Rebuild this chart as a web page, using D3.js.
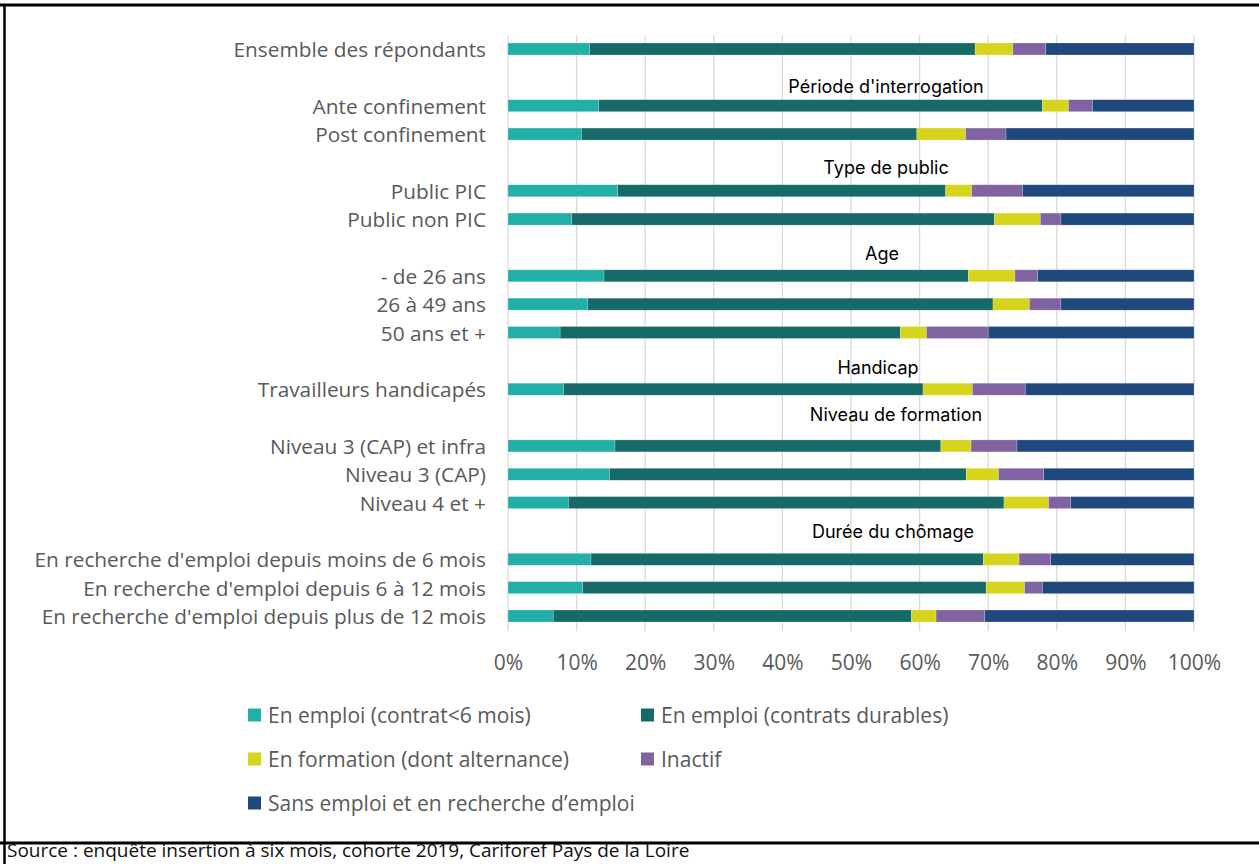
<!DOCTYPE html>
<html>
<head>
<meta charset="utf-8">
<script src="https://cdn.jsdelivr.net/npm/d3@7"></script>
<style>
  html, body { margin: 0; padding: 0; background: #fff; }
  svg { display: block; }
</style>
</head>
<body>
<svg id="chart" width="1259" height="864"></svg>
<script>
// ---- Data ----
const categories = [
  "Ensemble des répondants", "",
  "Ante confinement", "Post confinement", "",
  "Public PIC", "Public non PIC", "",
  "- de 26 ans", "26 à 49 ans", "50 ans et +", "",
  "Travailleurs handicapés", "",
  "Niveau 3 (CAP) et infra", "Niveau 3 (CAP)", "Niveau 4 et +", "",
  "En recherche d'emploi depuis moins de 6 mois",
  "En recherche d'emploi depuis 6 à 12 mois",
  "En recherche d'emploi depuis plus de 12 mois"
];
const seriesNames = [
  "En emploi (contrat<6 mois)",
  "En emploi (contrats durables)",
  "En formation (dont alternance)",
  "Inactif",
  "Sans emploi et en recherche d\u2019emploi"
];
const emploiCourt    = [11.9, null, 13.2, 10.7, null, 16.0,  9.3, null, 14.0, 11.6,  7.6, null,  8.1, null, 15.6, 14.8,  8.8, null, 12.1, 10.9,  6.6];
const emploiDurable  = [56.2, null, 64.7, 48.9, null, 47.8, 61.6, null, 53.1, 59.1, 49.6, null, 52.4, null, 47.5, 52.0, 63.5, null, 57.2, 58.8, 52.2];
const formation      = [ 5.5, null,  3.8,  7.1, null,  3.8,  6.7, null,  6.8,  5.3,  3.8, null,  7.2, null,  4.4,  4.7,  6.5, null,  5.2,  5.6,  3.6];
const inactif        = [ 4.8, null,  3.5,  5.9, null,  7.4,  3.0, null,  3.3,  4.6,  9.0, null,  7.7, null,  6.7,  6.6,  3.2, null,  4.6,  2.6,  7.1];
const sansEmploi     = [21.6, null, 14.8, 27.4, null, 25.0, 19.4, null, 22.8, 19.4, 30.0, null, 24.6, null, 25.8, 21.9, 18.0, null, 20.9, 22.1, 30.5];
const tickValues = [0, 10, 20, 30, 40, 50, 60, 70, 80, 90, 100];
const sectionHeaders = ["Période d'interrogation", "Type de public", "Age", "Handicap", "Niveau de formation", "Durée du chômage"];
const sourceText = "Source : enquête insertion à six mois, cohorte 2019, Cariforef Pays de la Loire";

// ---- Styles / layout ----
const colors = ["#21AFA8", "#166A68", "#D6D41C", "#8064A2", "#1F497D"];
const headerPos = [ // [center x, center y]
  [886, 86], [886, 167], [882, 253], [878, 367], [896, 414], [893, 531]
];
const FONT = "'Open Sans', 'Noto Sans', sans-serif";
const GREY = "#595959";

const svg = d3.select("#chart");
const W = 1259, H = 864;

// frame
svg.append("line").attr("x1", 0).attr("x2", W).attr("y1", 5).attr("y2", 5)
  .attr("stroke", "#000").attr("stroke-width", 3);
svg.append("line").attr("x1", 0).attr("x2", W).attr("y1", 843).attr("y2", 843)
  .attr("stroke", "#000").attr("stroke-width", 3);
svg.append("line").attr("x1", 4.5).attr("x2", 4.5).attr("y1", 4).attr("y2", H)
  .attr("stroke", "#000").attr("stroke-width", 2.5);

const x = d3.scaleLinear().domain([0, 100]).range([508, 1194]);
const y = d3.scalePoint().domain(d3.range(categories.length)).range([49, 616]);
const barH = 12;

// gridlines
svg.append("g").selectAll("line").data(tickValues).join("line")
  .attr("x1", d => x(d)).attr("x2", d => x(d))
  .attr("y1", 35).attr("y2", 631)
  .attr("stroke", "#d9d9d9").attr("stroke-width", 1.3);

// stacked data
const seriesArrays = [emploiCourt, emploiDurable, formation, inactif, sansEmploi];
const rows = categories.map((c, i) => {
  const o = { i, label: c };
  seriesArrays.forEach((arr, k) => o["s" + k] = arr[i]);
  return o;
}).filter(r => r.s0 !== null);
const stack = d3.stack().keys(seriesArrays.map((_, k) => "s" + k));
const stacked = stack(rows);

svg.append("g").selectAll("g").data(stacked).join("g")
  .attr("fill", (d, k) => colors[k])
  .selectAll("rect").data(d => d).join("rect")
  .attr("x", d => x(d[0]))
  .attr("width", d => x(d[1]) - x(d[0]))
  .attr("y", d => y(d.data.i) - barH / 2)
  .attr("height", barH)
  .attr("stroke", "rgba(255,255,255,0.35)")
  .attr("stroke-width", 0.6);

// category labels
svg.append("g").selectAll("text").data(rows).join("text")
  .attr("x", 486).attr("y", d => y(d.i))
  .attr("text-anchor", "end").attr("dominant-baseline", "central")
  .attr("font-family", FONT).attr("font-size", 20.8).attr("fill", GREY)
  .text(d => d.label);

// section headers
svg.append("g").selectAll("text").data(sectionHeaders).join("text")
  .attr("x", (d, i) => headerPos[i][0]).attr("y", (d, i) => headerPos[i][1])
  .attr("text-anchor", "middle").attr("dominant-baseline", "central")
  .attr("font-family", "Inter, 'Liberation Sans', sans-serif").attr("font-size", 18)
  .attr("fill", "#000")
  .text(d => d);

// x axis tick labels
const xAxis = d3.axisBottom(x).tickValues(tickValues).tickFormat(d => d + "%").tickSize(0).tickPadding(0);
const ax = svg.append("g").attr("transform", "translate(0,662)").call(xAxis);
ax.select(".domain").remove();
ax.selectAll("text").attr("font-family", FONT).attr("font-size", 21).attr("fill", GREY)
  .attr("dy", null).attr("dominant-baseline", "central");

// legend
const legendPos = [[248, 715], [641, 715], [248, 759], [641, 759], [248, 803]];
const lg = svg.append("g").selectAll("g").data(seriesNames).join("g")
  .attr("transform", (d, i) => `translate(${legendPos[i][0]},${legendPos[i][1]})`);
lg.append("rect").attr("x", 0).attr("y", -6.5).attr("width", 13).attr("height", 13)
  .attr("fill", (d, i) => colors[i]);
lg.append("text").attr("x", 20).attr("y", 0).attr("dominant-baseline", "central")
  .attr("font-family", FONT).attr("font-size", 21).attr("fill", GREY)
  .text(d => d);

// source
svg.append("text").attr("x", 7).attr("y", 857).attr("font-family", FONT)
  .attr("font-size", 19).attr("fill", "#111")
  .text(sourceText);
</script>
</body>
</html>
